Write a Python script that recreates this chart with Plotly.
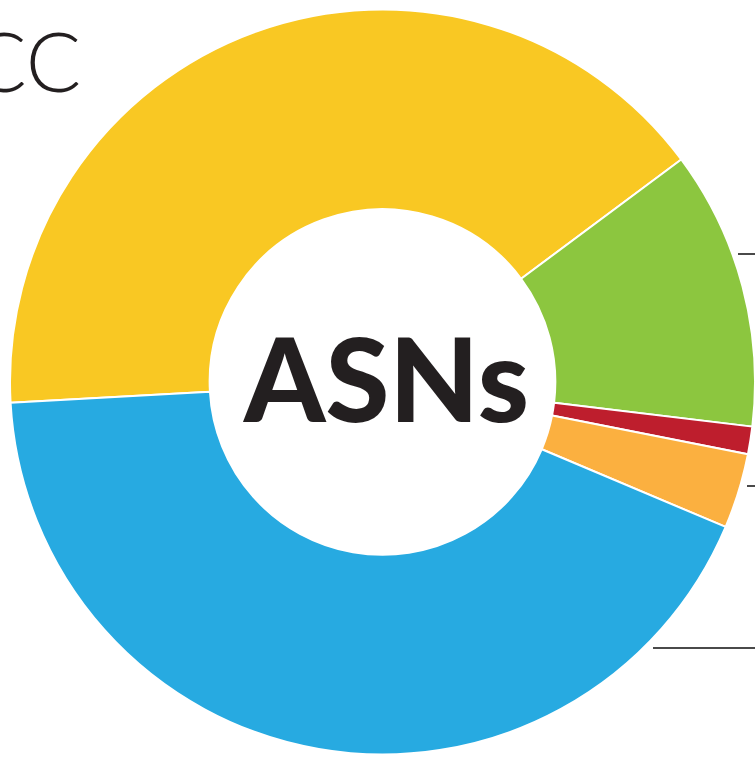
import plotly.graph_objects as go

W, H = 755, 757

registries = ["RIPE NCC", "APNIC", "AFRINIC", "LACNIC", "ARIN"]
asn_share = [40.7, 12.1, 1.2, 3.25, 42.75]
slice_colors = ["#F9C823", "#8CC63F", "#BE1E2D", "#FBB040", "#27AAE1"]
center_label = "ASNs"
corner_label = "RIPE NCC"

fig = go.Figure(go.Pie(
    labels=registries,
    values=asn_share,
    sort=False,
    direction="clockwise",
    rotation=266.8,
    hole=0.464,
    textinfo="none",
    hoverinfo="label+percent",
    marker=dict(colors=slice_colors, line=dict(color="white", width=2)),
    domain=dict(x=[10 / W, 1.0], y=[2 / H, (H - 9) / H]),
    showlegend=False,
))

def px(x):
    return x / W

def py(y):
    return 1 - y / H

shapes = []
for (x0, x1, y) in [(738, 755, 254), (747, 755, 486), (653, 755, 648)]:
    shapes.append(dict(type="line", xref="paper", yref="paper",
                       x0=px(x0), x1=px(x1), y0=py(y), y1=py(y),
                       line=dict(color="#4a4a4a", width=2)))

fig.update_layout(
    width=W, height=H,
    margin=dict(l=0, r=0, t=0, b=0),
    paper_bgcolor="white", plot_bgcolor="white",
    shapes=shapes,
    annotations=[
        dict(text=center_label, x=px(385), y=py(378), xref="paper", yref="paper",
             showarrow=False, xanchor="center", yanchor="middle",
             font=dict(family="Lato", size=116, color="#231F20", weight=900)),
        dict(text=corner_label, x=px(82), y=py(60), xref="paper", yref="paper",
             showarrow=False, xanchor="right", yanchor="middle", borderpad=0,
             font=dict(family="Lato", size=82, color="#231F20", weight=300)),
    ],
)

fig.write_html(
    "out.html",
    config={"displayModeBar": False},
    post_script="document.body.style.margin='0';document.body.style.overflow='hidden';",
)
